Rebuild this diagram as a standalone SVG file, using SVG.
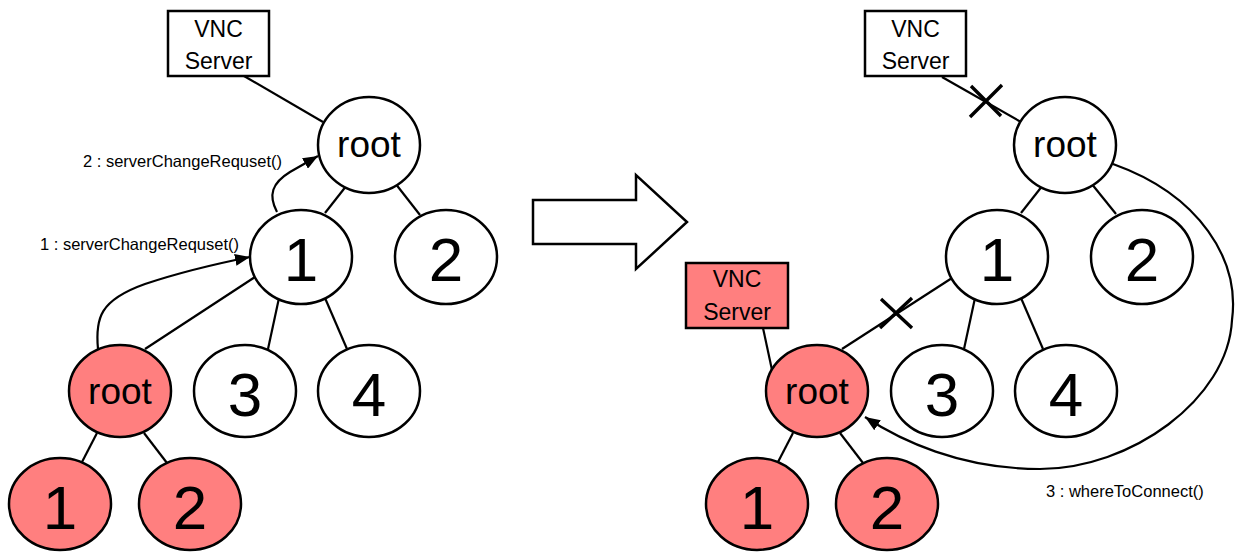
<svg xmlns="http://www.w3.org/2000/svg" width="1240" height="554" viewBox="0 0 1240 554">
<style>
.n{fill:#fff;stroke:#000;stroke-width:2.5}
.p{fill:#ff7f7f;stroke:#000;stroke-width:2.5}
.b{fill:#fff;stroke:#000;stroke-width:2.5}
.bp{fill:#ff7f7f;stroke:#000;stroke-width:2.5}
.l{fill:none;stroke:#000;stroke-width:2.2}
.x{fill:none;stroke:#000;stroke-width:3.4}
.t{font-family:"Liberation Sans",Arial,sans-serif;fill:#000;text-anchor:middle}
.d{font-size:62px}
.r{font-size:37px}
.v{font-size:23px}
.lab{font-family:"Liberation Sans",Arial,sans-serif;font-size:16.5px;fill:#000}
</style>
<defs>
<marker id="ah" markerUnits="userSpaceOnUse" markerWidth="16" markerHeight="12" refX="15" refY="6" orient="auto">
<path d="M0,0 L15,6 L0,12 z" fill="#000"/>
</marker>
</defs>
<g id="connectors">
<line class="l" x1="244" y1="76" x2="323" y2="122"/>
<line class="l" x1="325" y1="213" x2="347" y2="185"/>
<line class="l" x1="395" y1="183" x2="420" y2="215"/>
<line class="l" x1="255" y1="277" x2="145" y2="349"/>
<line class="l" x1="279" y1="298" x2="268" y2="349"/>
<line class="l" x1="325" y1="298" x2="347" y2="349"/>
<line class="l" x1="97" y1="433" x2="82" y2="462"/>
<line class="l" x1="144" y1="433" x2="167" y2="463"/>
<path class="l" d="M98,349 C95,318 100,300 145,284 C175,274 210,265 250,257" marker-end="url(#ah)"/>
<path class="l" d="M277,212 C268,195 272,183 290,172 L318,156" marker-end="url(#ah)"/>
<line class="l" x1="942" y1="77" x2="1021" y2="122"/>
<line class="l" x1="1021" y1="213" x2="1043" y2="185"/>
<line class="l" x1="1091" y1="183" x2="1116" y2="214"/>
<line class="l" x1="952" y1="278" x2="842" y2="349"/>
<line class="l" x1="975" y1="298" x2="964" y2="349"/>
<line class="l" x1="1021" y1="298" x2="1043" y2="349"/>
<line class="l" x1="793" y1="433" x2="778" y2="462"/>
<line class="l" x1="840" y1="433" x2="863" y2="463"/>
<line class="l" x1="763" y1="328" x2="772" y2="370"/>
<path class="l" d="M1113,164 C1200,195 1240,260 1232,320 C1228,400 1130,469 1040,469 C960,469 900,440 865,417" marker-end="url(#ah)"/>
<path class="x" d="M970,117 L1002,85 M971,86 L1001,116"/>
<path class="x" d="M880,328 L912,298 M881,299 L912,328"/>
</g>
<g id="arrow-big">
<polygon points="533,200 636,200 636,175 687,222 636,269 636,244 533,244" fill="#fff" stroke="#000" stroke-width="2.5"/>
</g>
<g id="L-vnc"><rect class="b" x="168" y="11" width="101" height="65"/><text class="t v" x="218.5" y="37">VNC</text><text class="t v" x="218.5" y="69">Server</text></g>
<g id="L-root"><ellipse class="n" cx="369" cy="145" rx="51" ry="48"/><text class="t r" x="369" y="157">root</text></g>
<g id="L-1"><ellipse class="n" cx="301" cy="257" rx="51" ry="47"/><text class="t d" x="301" y="281">1</text></g>
<g id="L-2"><ellipse class="n" cx="446" cy="257" rx="51" ry="47"/><text class="t d" x="446" y="281">2</text></g>
<g id="L-proot"><ellipse class="p" cx="120" cy="391" rx="51" ry="46"/><text class="t r" x="120" y="404">root</text></g>
<g id="L-3"><ellipse class="n" cx="245" cy="391" rx="51" ry="46"/><text class="t d" x="245" y="416">3</text></g>
<g id="L-4"><ellipse class="n" cx="369" cy="391" rx="51" ry="46"/><text class="t d" x="369" y="416">4</text></g>
<g id="L-p1"><ellipse class="p" cx="60" cy="504" rx="51" ry="46"/><text class="t d" x="60" y="529">1</text></g>
<g id="L-p2"><ellipse class="p" cx="190" cy="504" rx="51" ry="46"/><text class="t d" x="190" y="529">2</text></g>
<g id="R-vnc"><rect class="b" x="865" y="11" width="101" height="65"/><text class="t v" x="915.5" y="37">VNC</text><text class="t v" x="915.5" y="69">Server</text></g>
<g id="R-vnc2"><rect class="bp" x="686" y="263" width="102" height="65"/><text class="t v" x="737" y="287">VNC</text><text class="t v" x="737" y="320">Server</text></g>
<g id="R-root"><ellipse class="n" cx="1065" cy="145" rx="51" ry="48"/><text class="t r" x="1065" y="157">root</text></g>
<g id="R-1"><ellipse class="n" cx="997" cy="257" rx="51" ry="47"/><text class="t d" x="997" y="281">1</text></g>
<g id="R-2"><ellipse class="n" cx="1142" cy="257" rx="51" ry="47"/><text class="t d" x="1142" y="281">2</text></g>
<g id="R-proot"><ellipse class="p" cx="817" cy="391" rx="51" ry="46"/><text class="t r" x="817" y="404">root</text></g>
<g id="R-3"><ellipse class="n" cx="942" cy="391" rx="51" ry="46"/><text class="t d" x="942" y="416">3</text></g>
<g id="R-4"><ellipse class="n" cx="1066" cy="391" rx="51" ry="46"/><text class="t d" x="1066" y="416">4</text></g>
<g id="R-p1"><ellipse class="p" cx="757" cy="504" rx="51" ry="46"/><text class="t d" x="757" y="529">1</text></g>
<g id="R-p2"><ellipse class="p" cx="887" cy="504" rx="51" ry="46"/><text class="t d" x="887" y="529">2</text></g>
<g id="labels">
<text class="lab" x="83" y="167">2 : serverChangeRequset()</text>
<text class="lab" x="40" y="250">1 : serverChangeRequset()</text>
<text class="lab" x="1046" y="497">3 : whereToConnect()</text>
</g>
</svg>
